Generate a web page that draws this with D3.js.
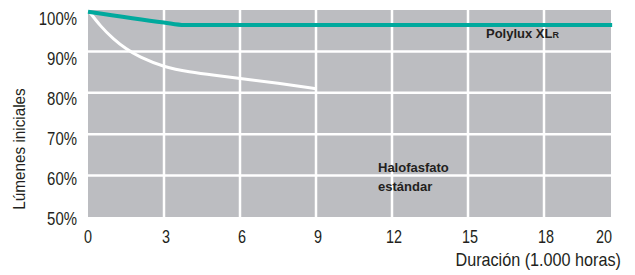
<!DOCTYPE html>
<html><head><meta charset="utf-8">
<script src="https://cdn.jsdelivr.net/npm/d3@7"></script>
<style>
body{margin:0;background:#fff;}
text{font-family:"Liberation Sans","Arial",sans-serif;}
</style></head>
<body>
<svg id="chart" width="635" height="275"></svg>
<script>
// ---- data ----
const xTicks = [0, 3, 6, 9, 12, 15, 18, 20];
const yTicks = [50, 60, 70, 80, 90, 100];
const polyluxHours = [0, 3, 3.8, 20.35];
const polyluxLumen = [99.6, 97.0, 96.4, 96.4];
const halofosfatoHours = [0, 0.5, 1, 1.5, 2, 3, 4, 5, 6, 7.5, 9];
const halofosfatoLumen = [100, 96, 93, 90.6, 88.7, 86.2, 85, 84.2, 83.5, 82.3, 81];
const seriesLabels = ["Polylux XL", "R", "Halofasfato", "estándar"];
const xTitle = "Duración (1.000 horas)";
const yTitle = "Lúmenes iniciales";

// ---- layout ----
const svg = d3.select("#chart");
const pLeft = 88, pRight = 611, pTop = 10, pBottom = 217;
const x = d3.scaleLinear().domain([0, 18, 20]).range([pLeft, 544, 602]);
const y = d3.scaleLinear().domain([50, 100]).range([pBottom, pTop]);
const yLab = d3.scaleLinear().domain([50, 100]).range([219, 19]);
const ink = "#231f20";

svg.append("rect").attr("x", pLeft).attr("y", pTop)
  .attr("width", pRight - pLeft).attr("height", pBottom - pTop).attr("fill", "#bcbdc1");

// grid
svg.append("g").selectAll("line").data(xTicks.filter(d => d > 0 && d < 20)).join("line")
  .attr("x1", d => x(d)).attr("x2", d => x(d)).attr("y1", pTop).attr("y2", pBottom)
  .attr("stroke", "#fff").attr("stroke-width", 2.5);
svg.append("g").selectAll("line").data(yTicks.filter(d => d > 50 && d < 100)).join("line")
  .attr("x1", pLeft).attr("x2", pRight).attr("y1", d => y(d)).attr("y2", d => y(d))
  .attr("stroke", "#fff").attr("stroke-width", 2.5);

// lines
const halo = halofosfatoHours.map((h, i) => [h, halofosfatoLumen[i]]);
const poly = polyluxHours.map((h, i) => [h, polyluxLumen[i]]);
svg.append("path").datum(halo)
  .attr("d", d3.line().x(d => x(d[0])).y(d => y(d[1])).curve(d3.curveBasis))
  .attr("fill", "none").attr("stroke", "#fff").attr("stroke-width", 3);
svg.append("path").datum(poly)
  .attr("d", d3.line().x(d => x(d[0])).y(d => y(d[1])).curve(d3.curveMonotoneX))
  .attr("fill", "none").attr("stroke", "#00a99d").attr("stroke-width", 4);

// axes labels (condensed via horizontal scaling)
svg.append("g").selectAll("text").data(yTicks).join("text")
  .attr("transform", d => `translate(77,${yLab(d)}) scale(0.83,1)`).attr("dy", "0.36em")
  .attr("text-anchor", "end").attr("font-size", 18).attr("fill", ink)
  .text(d => d + "%");
svg.append("g").selectAll("text").data(xTicks).join("text")
  .attr("transform", d => `translate(${x(d) + (d === 0 ? 0 : 2)},243) scale(0.8,1)`)
  .attr("text-anchor", "middle").attr("font-size", 18).attr("fill", ink)
  .text(d => d);
svg.append("text").attr("transform", "translate(621,266) scale(0.9,1)").attr("text-anchor", "end")
  .attr("font-size", 18).attr("fill", ink).text(xTitle);
svg.append("text").attr("transform", "translate(25,149) rotate(-90) scale(0.9,1)")
  .attr("text-anchor", "middle").attr("font-size", 17).attr("fill", ink).text(yTitle);

// series labels
const pl = svg.append("text").attr("x", 486).attr("y", 38)
  .attr("font-size", 13).attr("font-weight", "bold").attr("fill", ink);
pl.append("tspan").text(seriesLabels[0]);
pl.append("tspan").attr("font-size", 9).text(seriesLabels[1]);
svg.append("text").attr("x", 378).attr("y", 172).attr("font-size", 13)
  .attr("font-weight", "bold").attr("fill", ink).text(seriesLabels[2]);
svg.append("text").attr("x", 378).attr("y", 191).attr("font-size", 13)
  .attr("font-weight", "bold").attr("fill", ink).text(seriesLabels[3]);
</script>
</body></html>
